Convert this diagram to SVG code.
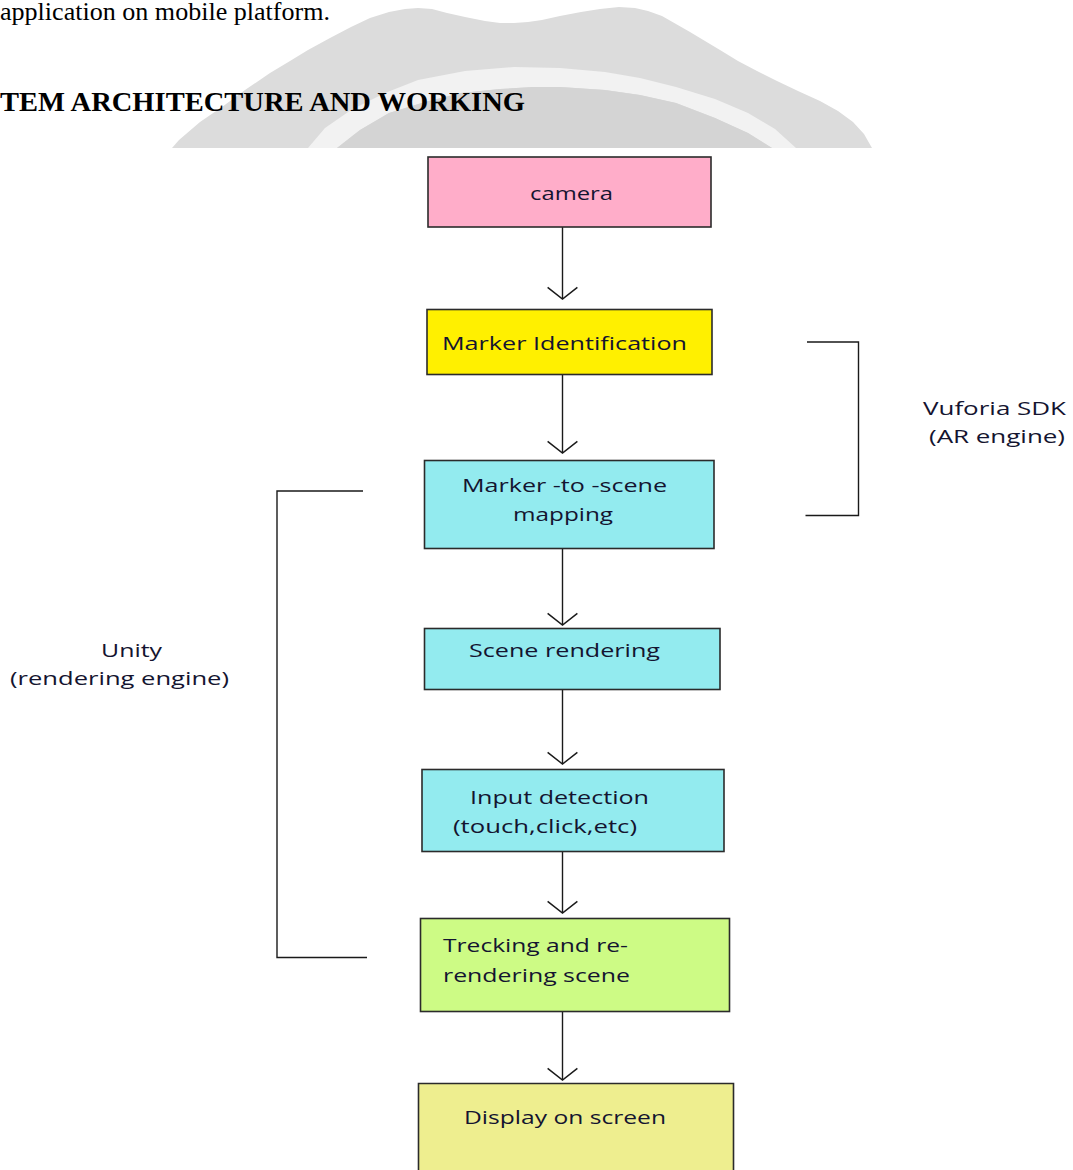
<svg xmlns="http://www.w3.org/2000/svg" width="1073" height="1170" viewBox="0 0 1073 1170">
<style>
.box{stroke:#2b2b2b;stroke-width:1.6}
.lbl{font-family:"Open Sans","Liberation Sans",sans-serif;font-size:19px;fill:#141430}
.con{stroke:#1a1a1a;stroke-width:1.4;fill:none}
.hdr{font-family:"Liberation Serif","Times New Roman",serif;fill:#000}
</style>
<defs>
<marker id="vee" markerUnits="userSpaceOnUse" markerWidth="30" markerHeight="34" viewBox="-14 -16 16 32" refX="0" refY="0" orient="auto">
<path d="M-11,-14 L0,0 L-11,14" fill="none" stroke="#1a1a1a" stroke-width="1.4"/>
</marker>
</defs>
<rect width="1073" height="1170" fill="#fff"/>
<g id="watermark">
<polygon fill="#dcdcdc" points="172,148 179,140 200,122 222,107 245,90 270,73 290,61 308,50 330,38 351,27 370,18 389,12 405,9 418,8 432,9 447,13 465,17 485,21 500,23 514,23 528,22 542,20 560,16 581,12 600,9 619,7 635,8 648,11 662,16 676,24 690,32 705,41 720,50 738,61 757,71 777,81 798,91 820,101 838,111 853,122 864,134 872,148"/>
<polygon fill="#f2f2f2" points="308,148 325,128 351,110 385,93 418,80 465,71 514,67 560,68 605,72 640,78 676,87 715,99 748,113 775,129 796,148 772,148 748,133 715,118 676,103 640,95 605,90 560,87 533,87 500,89 461,93 425,102 389,113 360,130 337,148"/>
<polygon fill="#d4d4d4" points="337,148 360,130 389,113 425,102 461,93 500,89 533,87 560,87 605,90 640,95 676,103 715,118 748,133 772,148"/>
</g>
<text class="hdr" x="0" y="20" font-size="25" textLength="330" lengthAdjust="spacingAndGlyphs">application on mobile platform.</text>
<text class="hdr" x="0" y="111" font-size="28" font-weight="bold" textLength="525" lengthAdjust="spacingAndGlyphs">TEM ARCHITECTURE AND WORKING</text>
<g id="connectors">
<line class="con" x1="562.5" y1="227" x2="562.5" y2="299" marker-end="url(#vee)"/>
<line class="con" x1="562.5" y1="374.5" x2="562.5" y2="453" marker-end="url(#vee)"/>
<line class="con" x1="562.5" y1="548.5" x2="562.5" y2="625" marker-end="url(#vee)"/>
<line class="con" x1="562.5" y1="689.5" x2="562.5" y2="764" marker-end="url(#vee)"/>
<line class="con" x1="562.5" y1="851.5" x2="562.5" y2="913" marker-end="url(#vee)"/>
<line class="con" x1="562.5" y1="1011.5" x2="562.5" y2="1080" marker-end="url(#vee)"/>
</g>
<g id="camera">
<rect class="box" x="428" y="157" width="283" height="70" fill="#ffadc9"/>
<text class="lbl" x="530" y="200" textLength="83" lengthAdjust="spacingAndGlyphs">camera</text>
</g>
<g id="marker-identification">
<rect class="box" x="427" y="309.5" width="285" height="65" fill="#fff000"/>
<text class="lbl" x="442" y="350" textLength="245" lengthAdjust="spacingAndGlyphs">Marker Identification</text>
</g>
<g id="marker-to-scene">
<rect class="box" x="424.5" y="460.5" width="289.5" height="88" fill="#93ebef"/>
<text class="lbl" x="462" y="492" textLength="205" lengthAdjust="spacingAndGlyphs">Marker -to -scene</text>
<text class="lbl" x="513" y="521" textLength="100" lengthAdjust="spacingAndGlyphs">mapping</text>
</g>
<g id="scene-rendering">
<rect class="box" x="424.5" y="628.5" width="295.5" height="61" fill="#93ebef"/>
<text class="lbl" x="469" y="657" textLength="191" lengthAdjust="spacingAndGlyphs">Scene rendering</text>
</g>
<g id="input-detection">
<rect class="box" x="422" y="769.5" width="302" height="82" fill="#93ebef"/>
<text class="lbl" x="470" y="804" textLength="179" lengthAdjust="spacingAndGlyphs">Input detection</text>
<text class="lbl" x="453" y="833" textLength="184" lengthAdjust="spacingAndGlyphs">(touch,click,etc)</text>
</g>
<g id="tracking">
<rect class="box" x="420.5" y="918.5" width="309" height="93" fill="#cdfb85"/>
<text class="lbl" x="443" y="952" textLength="185" lengthAdjust="spacingAndGlyphs">Trecking and re-</text>
<text class="lbl" x="443" y="982" textLength="187" lengthAdjust="spacingAndGlyphs">rendering scene</text>
</g>
<g id="display">
<path class="box" d="M418.5,1172 V1083.5 H733.5 V1172" fill="#eeee8f"/>
<text class="lbl" x="464" y="1124" textLength="202" lengthAdjust="spacingAndGlyphs">Display on screen</text>
</g>
<g id="vuforia-group">
<polyline class="con" points="807,342 858.5,342 858.5,515.5 805.5,515.5"/>
<text class="lbl" x="923" y="415" textLength="143" lengthAdjust="spacingAndGlyphs">Vuforia  SDK</text>
<text class="lbl" x="929" y="443" textLength="136" lengthAdjust="spacingAndGlyphs">(AR engine)</text>
</g>
<g id="unity-group">
<polyline class="con" points="363,491 277,491 277,957.5 367,957.5"/>
<text class="lbl" x="101" y="657" textLength="61" lengthAdjust="spacingAndGlyphs">Unity</text>
<text class="lbl" x="10" y="685" textLength="219" lengthAdjust="spacingAndGlyphs">(rendering engine)</text>
</g>
</svg>
